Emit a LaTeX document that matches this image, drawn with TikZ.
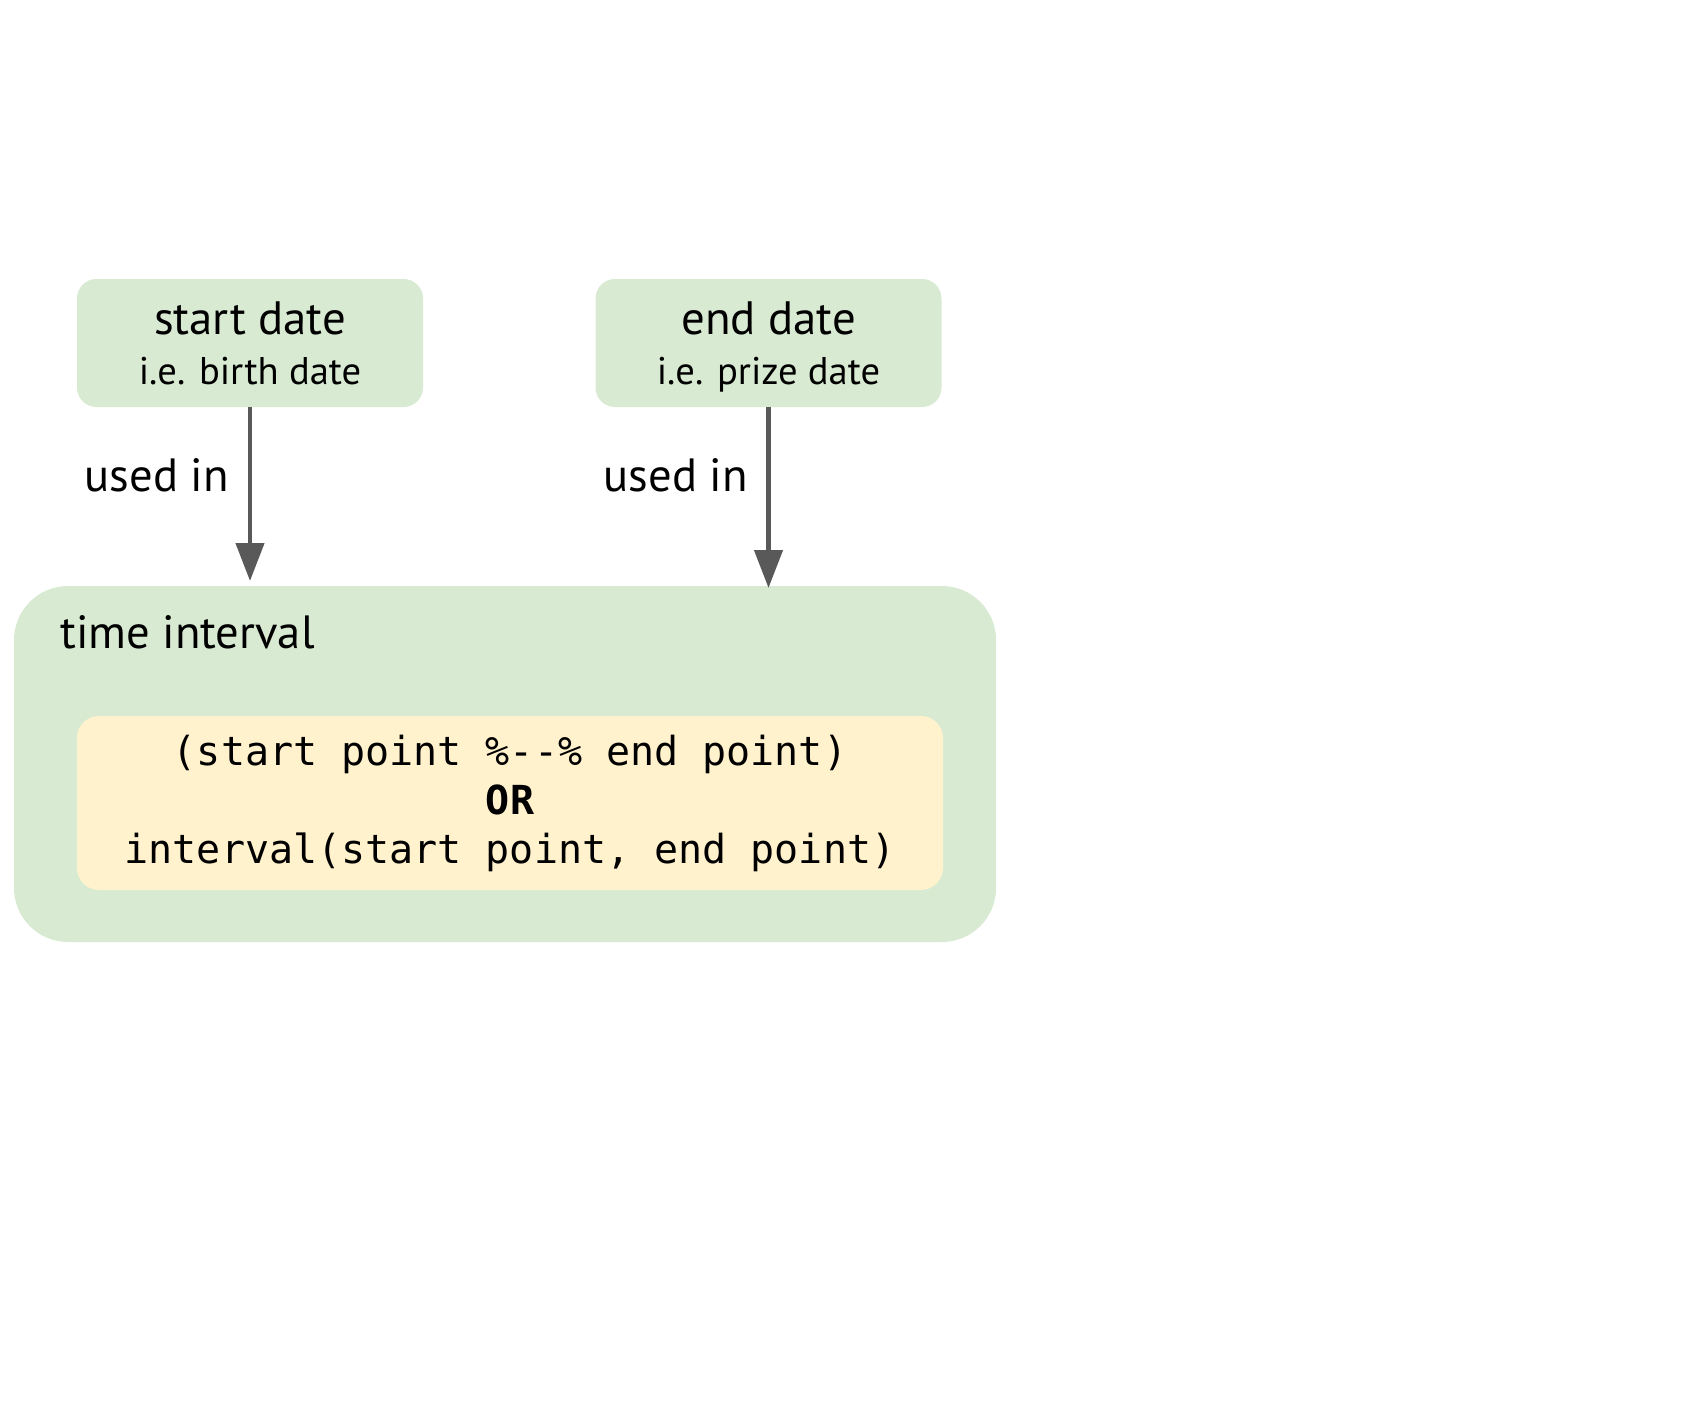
\documentclass[tikz,border=0pt]{standalone}
\usepackage{fontspec}
\setmainfont{PT Sans}
\newfontfamily\codefont{DejaVu Sans Mono}
\usetikzlibrary{arrows.meta}
\definecolor{boxgreen}{HTML}{D9EAD3}
\definecolor{boxyellow}{HTML}{FFF2CC}
\definecolor{arrowgray}{HTML}{595959}
\tikzset{
  datebox/.style={fill=boxgreen, rounded corners=9.7pt, minimum width=173pt, minimum height=64pt, inner sep=0pt, align=center},
  outerbox/.style={fill=boxgreen, rounded corners=27pt, minimum width=491pt, minimum height=178pt, inner sep=0pt},
  codebox/.style={fill=boxyellow, rounded corners=11pt, minimum width=433pt, minimum height=87pt, inner sep=0pt, align=center, font=\codefont\fontsize{20}{24.5}\selectfont},
  usedarrow/.style={draw=arrowgray, line width=2.2pt, -{Triangle[length=19pt,width=14pt]}},
  lbl/.style={inner sep=0pt, font=\fontsize{23.3}{28}\selectfont},
}
\begin{document}
\begin{tikzpicture}[x=0.5pt,y=-0.5pt]
\useasboundingbox (0,0) rectangle (1685,1402);
\node[outerbox] (interval) at (505,764) {};
\node[codebox] (code) at (510,803) {(start point \%{-}{-}\% end point)\\[0pt]{\bfseries OR}\\[0pt]interval(start point, end point)};
\node[lbl, anchor=west] (tilabel) at (60,632) {time interval};
\node[datebox] (start) at (250,343) {{\fontsize{23.4}{24}\selectfont start date}\\[13pt]{\fontsize{19.3}{24}\selectfont\smash{i.e. birth date}}};
\node[datebox] (end) at (768.5,343) {{\fontsize{23.4}{24}\selectfont end date}\\[13pt]{\fontsize{19.3}{24}\selectfont\smash{i.e. prize date}}};
\coordinate (t1) at (250,581);
\coordinate (t2) at (768.5,588);
\draw[usedarrow] (start.south) -- (t1);
\draw[usedarrow] (end.south) -- (t2);
\node[lbl, anchor=east] (u1) at (229,475) {used in};
\node[lbl, anchor=east] (u2) at (748,475) {used in};
\end{tikzpicture}
\end{document}
